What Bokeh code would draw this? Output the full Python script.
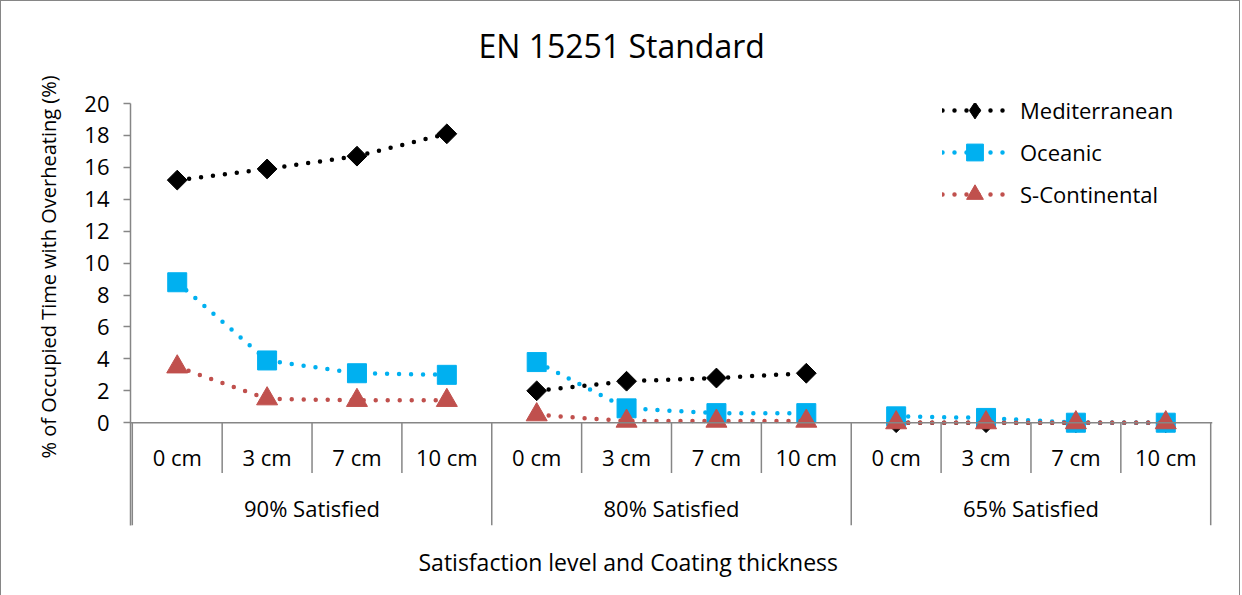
import math
from bokeh.plotting import figure
from bokeh.models import (FactorRange, Range1d, FixedTicker, Span, Title,
                          Legend, LegendItem, ColumnDataSource)
from bokeh.core.properties import value
from bokeh.embed import file_html
from bokeh.resources import INLINE

# ---------------- data ----------------
groups = ["90% Satisfied", "80% Satisfied", "65% Satisfied"]
thickness = ["0 cm", "3 cm", "7 cm", "10 cm"]
series_names = ["Mediterranean", "Oceanic", "S-Continental"]
mediterranean = [15.2, 15.9, 16.7, 18.1, 2.0, 2.6, 2.8, 3.1, 0.0, 0.0, 0.0, 0.0]
oceanic = [8.8, 3.9, 3.1, 3.0, 3.8, 0.9, 0.6, 0.6, 0.4, 0.3, 0.0, 0.0]
s_continental = [3.5, 1.5, 1.4, 1.4, 0.5, 0.1, 0.1, 0.1, 0.0, 0.0, 0.0, 0.0]
y_ticks = [0, 2, 4, 6, 8, 10, 12, 14, 16, 18, 20]
title_text = "EN 15251 Standard"
x_title = "Satisfaction level and Coating thickness"
y_title = "% of Occupied Time with Overheating (%)"

# ---------------- styles ----------------
FONT = "Open Sans"
GRAY = "#868686"
colors = ["#000000", "#00B0F0", "#C0504D"]
markers = ["square", "square", "triangle"]
legend_markers = ["diamond", "square", "triangle"]
angles = [math.pi / 4, 0, 0]
sizes = [14, 19, 21]
Y_LOW = -6.44

factors = [(g, t) for g in groups for t in thickness]

x_range = FactorRange(*factors, factor_padding=0, group_padding=0,
                      range_padding=0.02, range_padding_units="absolute")
p = figure(x_range=x_range, y_range=Range1d(Y_LOW, 20),
           frame_width=1082, frame_height=422,
           min_border_left=129, min_border_right=27,
           min_border_top=102, min_border_bottom=68,
           output_backend="svg", toolbar_location=None,
           background_fill_color="white", border_fill_color="white")
p.styles = {"border": f"1px solid {GRAY}"}
p.outline_line_color = None
p.grid.visible = False
p.xaxis.visible = False

yax = p.yaxis[0]
yax.ticker = FixedTicker(ticks=y_ticks)
yax.axis_line_color = GRAY
yax.axis_line_width = 1.5
yax.major_tick_line_color = GRAY
yax.major_tick_line_width = 1.5
yax.major_tick_out = 7
yax.major_tick_in = 0
yax.minor_tick_line_color = None
yax.major_label_text_font = FONT
yax.major_label_text_font_size = "22px"
yax.major_label_text_color = "black"
yax.major_label_standoff = 14

# category axis drawn inside the extended frame
p.add_layout(Span(location=0, dimension="width", line_color=GRAY, line_width=1.5))
n_per = len(thickness)
bounds = list(range(len(factors) + 1))
inner = [b for b in bounds if b % n_per != 0]
outer = [b for b in bounds if b % n_per == 0]
p.segment(x0=inner, y0=[0] * len(inner), x1=inner, y1=[-3.15] * len(inner),
          line_color=GRAY, line_width=1.5)
p.segment(x0=outer, y0=[0] * len(outer), x1=outer, y1=[Y_LOW] * len(outer),
          line_color=GRAY, line_width=1.5)
p.text(x=factors, y=[-2.15] * len(factors), text=[t for g in groups for t in thickness],
       text_font=value(FONT), text_font_size="22px", text_align="center",
       text_baseline="middle", text_color="black")
p.text(x=groups, y=[-5.34] * len(groups), text=groups,
       text_font=value(FONT), text_font_size="22px", text_align="center",
       text_baseline="middle", text_color="black")

# series
items = []
for name, vals, col, mk, lmk, ang, sz in zip(series_names, [mediterranean, oceanic, s_continental],
                                             colors, markers, legend_markers, angles, sizes):
    line_rs = []
    for gi, g in enumerate(groups):
        src = ColumnDataSource(dict(x=[(g, t) for t in thickness],
                                    y=vals[gi * n_per:(gi + 1) * n_per]))
        lr = p.line("x", "y", source=src, line_color=col, line_width=4.5,
                    line_dash="0 12", line_cap="round")
        line_rs.append(lr)
    src_all = ColumnDataSource(dict(x=factors, y=vals))
    sr = p.scatter("x", "y", source=src_all, marker=mk, angle=ang, size=sz,
                   fill_color=col, line_color=col)
    if lmk != mk:
        # legend swatch of the same series (rotated square shown as diamond)
        proxy = p.scatter("x", "y", source=src_all, marker=lmk, size=sz,
                          fill_color=col, line_color=col, visible=False)
        items.append(LegendItem(label=name, renderers=[line_rs[0], proxy]))
    else:
        items.append(LegendItem(label=name, renderers=[line_rs[0], sr]))

legend = Legend(items=items, location=(812, 310), padding=0, margin=0,
                spacing=0, glyph_width=65, glyph_height=42, label_standoff=13,
                label_text_font=FONT, label_text_font_size="22px",
                label_text_color="black", border_line_color=None,
                background_fill_alpha=0, inactive_fill_alpha=0)
p.add_layout(legend)

# spacer between frame and title, then the title itself
p.add_layout(Title(text=" ", text_font_size="1px", standoff=34), "above")
p.add_layout(Title(text=title_text, align="left", offset=348, standoff=0,
                   text_font=FONT, text_font_size="32px", text_font_style="normal",
                   text_color="black"), "above")
p.add_layout(Title(text=x_title, align="left", offset=288, standoff=36,
                   text_font=FONT, text_font_size="23px", text_font_style="normal",
                   text_color="black"), "below")
p.add_layout(Title(text=y_title, align="left", offset=67, standoff=40,
                   text_font=FONT, text_font_size="20px", text_font_style="normal",
                   text_color="black"), "left")

open("out.html", "w").write(file_html(p, INLINE))
